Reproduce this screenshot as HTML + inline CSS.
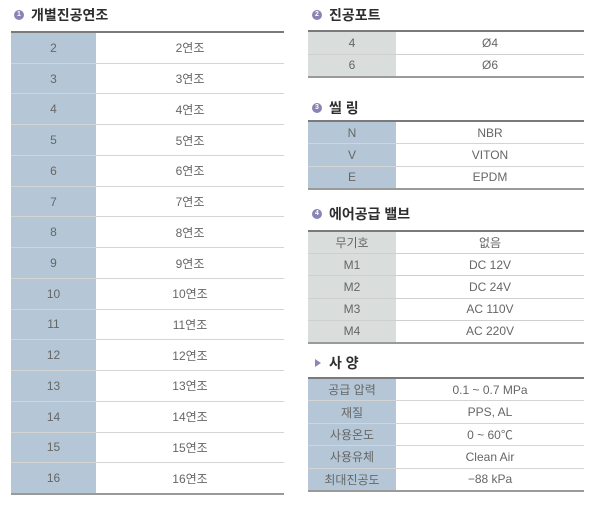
<!DOCTYPE html>
<html><head><meta charset="utf-8">
<style>
*{box-sizing:border-box;margin:0;padding:0}
body{width:600px;height:505px;background:#fff;position:relative;overflow:hidden;font-family:"Liberation Sans","Noto Sans CJK KR","NanumGothic",sans-serif;color:#5a5a5a}
.h{position:absolute;font-size:14px;font-weight:bold;color:#2e2e2e;line-height:16px;white-space:nowrap}
.circ{position:absolute;width:10px;height:10px;border-radius:50%;background:#8884b4;color:#fff;font-size:7px;line-height:10px;text-align:center;font-weight:bold}
.tri{position:absolute;width:0;height:0;border-top:4px solid transparent;border-bottom:4px solid transparent;border-left:6px solid #8a86b8}
.t{position:absolute;border-top:2px solid #7a7a7a;border-bottom:2px solid #9a9a9a;display:flex;flex-direction:column}
.r{flex:1;display:flex;border-top:1px solid #cfcfcf}
.r:first-child{border-top:none}
.c1,.c2{display:flex;align-items:center;justify-content:center;font-size:12px;color:#666}
.c2{flex:1}
.blue .c1{background:#b5c7d6}
.gray .c1{background:#d9dddb}
.blue .r{border-top-color:#d4d4d4}
</style></head><body>

<div class="circ" style="left:14px;top:10px">1</div>
<div class="h" style="left:31px;top:7px">개별진공연조</div>

<div class="t blue" style="left:11px;top:31px;width:273px;height:464px">
<div class="r"><div class="c1" style="width:85px">2</div><div class="c2">2연조</div></div>
<div class="r"><div class="c1" style="width:85px">3</div><div class="c2">3연조</div></div>
<div class="r"><div class="c1" style="width:85px">4</div><div class="c2">4연조</div></div>
<div class="r"><div class="c1" style="width:85px">5</div><div class="c2">5연조</div></div>
<div class="r"><div class="c1" style="width:85px">6</div><div class="c2">6연조</div></div>
<div class="r"><div class="c1" style="width:85px">7</div><div class="c2">7연조</div></div>
<div class="r"><div class="c1" style="width:85px">8</div><div class="c2">8연조</div></div>
<div class="r"><div class="c1" style="width:85px">9</div><div class="c2">9연조</div></div>
<div class="r"><div class="c1" style="width:85px">10</div><div class="c2">10연조</div></div>
<div class="r"><div class="c1" style="width:85px">11</div><div class="c2">11연조</div></div>
<div class="r"><div class="c1" style="width:85px">12</div><div class="c2">12연조</div></div>
<div class="r"><div class="c1" style="width:85px">13</div><div class="c2">13연조</div></div>
<div class="r"><div class="c1" style="width:85px">14</div><div class="c2">14연조</div></div>
<div class="r"><div class="c1" style="width:85px">15</div><div class="c2">15연조</div></div>
<div class="r"><div class="c1" style="width:85px">16</div><div class="c2">16연조</div></div>
</div>

<div class="circ" style="left:312px;top:10px">2</div>
<div class="h" style="left:329px;top:7px">진공포트</div>
<div class="t gray" style="left:308px;top:30px;width:276px;height:48px">
<div class="r"><div class="c1" style="width:88px">4</div><div class="c2">Ø4</div></div>
<div class="r"><div class="c1" style="width:88px">6</div><div class="c2">Ø6</div></div>
</div>

<div class="circ" style="left:312px;top:103px">3</div>
<div class="h" style="left:329px;top:100px">씰 링</div>
<div class="t blue" style="left:308px;top:120px;width:276px;height:70px">
<div class="r"><div class="c1" style="width:88px">N</div><div class="c2">NBR</div></div>
<div class="r"><div class="c1" style="width:88px">V</div><div class="c2">VITON</div></div>
<div class="r"><div class="c1" style="width:88px">E</div><div class="c2">EPDM</div></div>
</div>

<div class="circ" style="left:312px;top:209px">4</div>
<div class="h" style="left:329px;top:206px">에어공급 밸브</div>
<div class="t gray" style="left:308px;top:230px;width:276px;height:114px">
<div class="r"><div class="c1" style="width:88px">무기호</div><div class="c2">없음</div></div>
<div class="r"><div class="c1" style="width:88px">M1</div><div class="c2">DC 12V</div></div>
<div class="r"><div class="c1" style="width:88px">M2</div><div class="c2">DC 24V</div></div>
<div class="r"><div class="c1" style="width:88px">M3</div><div class="c2">AC 110V</div></div>
<div class="r"><div class="c1" style="width:88px">M4</div><div class="c2">AC 220V</div></div>
</div>

<div class="tri" style="left:315px;top:359px"></div>
<div class="h" style="left:329px;top:355px">사 양</div>
<div class="t blue" style="left:308px;top:377px;width:276px;height:115px">
<div class="r"><div class="c1" style="width:88px">공급 압력</div><div class="c2">0.1 ~ 0.7 MPa</div></div>
<div class="r"><div class="c1" style="width:88px">재질</div><div class="c2">PPS, AL</div></div>
<div class="r"><div class="c1" style="width:88px">사용온도</div><div class="c2">0 ~ 60℃</div></div>
<div class="r"><div class="c1" style="width:88px">사용유체</div><div class="c2">Clean Air</div></div>
<div class="r"><div class="c1" style="width:88px">최대진공도</div><div class="c2">−88 kPa</div></div>
</div>

</body></html>
